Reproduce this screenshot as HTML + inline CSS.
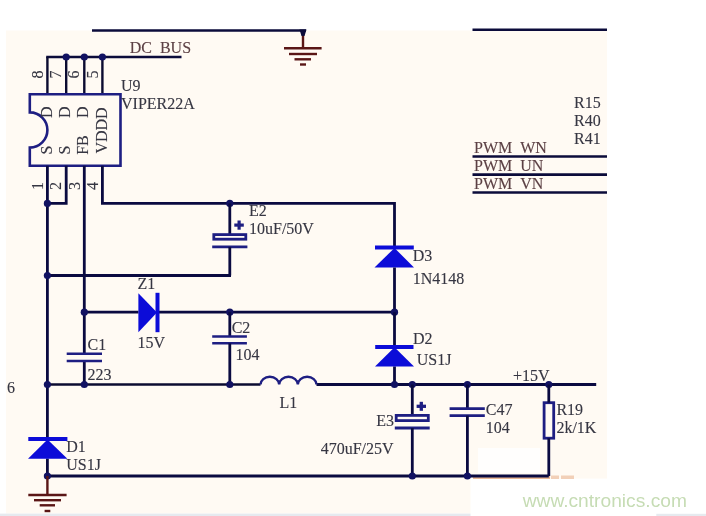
<!DOCTYPE html>
<html><head><meta charset="utf-8"><style>
html,body{margin:0;padding:0;background:#fff;width:706px;height:516px;overflow:hidden}
svg{display:block;will-change:transform}
</style></head><body>
<svg width="706" height="516" viewBox="0 0 706 516">
<rect x="0" y="0" width="706" height="516" fill="#ffffff"/>
<rect x="6" y="30.5" width="601" height="483" fill="#fffaf3"/>
<rect x="478" y="448" width="62" height="25" fill="#fffefd"/>
<rect x="470.5" y="478.6" width="236" height="38" fill="#ffffff"/>
<rect x="473" y="475" width="77" height="4" fill="#e9b896"/>
<rect x="551" y="475.5" width="8" height="3.5" fill="#f2d0b8"/>
<rect x="561" y="475.5" width="13" height="3.5" fill="#f2d0b8"/>
<rect x="0" y="513.6" width="470.5" height="3" fill="#e6eaef"/>
<rect x="656.3" y="513.8" width="50" height="3" fill="#e6eaef"/>
<line x1="92" y1="30.5" x2="306" y2="30.5" stroke="#0b0b3a" stroke-width="2.6"/>
<line x1="472.5" y1="29.8" x2="607" y2="29.8" stroke="#0b0b3a" stroke-width="2.4"/>
<line x1="303" y1="30.5" x2="303" y2="48.3" stroke="#5a1616" stroke-width="2.4"/>
<path d="M299.5,29.5 H306.5 L304.5,36 H301.5 Z" fill="#0b0b3a"/>
<line x1="284" y1="48.3" x2="321.6" y2="48.3" stroke="#5a1616" stroke-width="2.4"/>
<line x1="289" y1="54" x2="317" y2="54" stroke="#5a1616" stroke-width="2.4"/>
<line x1="294.5" y1="59.3" x2="311" y2="59.3" stroke="#5a1616" stroke-width="2.4"/>
<line x1="300" y1="64.5" x2="306" y2="64.5" stroke="#5a1616" stroke-width="2.4"/>
<line x1="46.199999999999996" y1="57.0" x2="181.5" y2="57.0" stroke="#0b0b3a" stroke-width="2.6"/>
<line x1="47.4" y1="57.0" x2="47.4" y2="94.2" stroke="#0b0b30" stroke-width="2.4"/>
<line x1="66.2" y1="57.0" x2="66.2" y2="94.2" stroke="#0b0b30" stroke-width="2.4"/>
<line x1="84.3" y1="57.0" x2="84.3" y2="94.2" stroke="#0b0b30" stroke-width="2.4"/>
<line x1="102.4" y1="57.0" x2="102.4" y2="94.2" stroke="#0b0b30" stroke-width="2.4"/>
<circle cx="66.2" cy="57.0" r="3.6" fill="#121262"/>
<circle cx="84.3" cy="57.0" r="3.6" fill="#121262"/>
<circle cx="102.4" cy="57.0" r="3.6" fill="#121262"/>
<path d="M29.8,94.2 H120.5 V165.8 H29.8 V147.6 A17.3,17.3 0 0 0 29.8,112.4 Z" stroke="#1e1e82" stroke-width="2.6" fill="#fffaf3"/>
<line x1="47.4" y1="165.8" x2="47.4" y2="439" stroke="#0a0a40" stroke-width="2.8"/>
<line x1="47.4" y1="458.5" x2="47.4" y2="476.0" stroke="#0a0a40" stroke-width="2.8"/>
<polyline points="66.2,165.8 66.2,203.4 47.4,203.4" stroke="#0a0a40" stroke-width="2.8" fill="none"/>
<line x1="84.3" y1="165.8" x2="84.3" y2="353.7" stroke="#0a0a40" stroke-width="2.8"/>
<line x1="84.3" y1="361" x2="84.3" y2="384.5" stroke="#0a0a40" stroke-width="2.8"/>
<polyline points="102.4,165.8 102.4,203.4 394.5,203.4 394.5,248" stroke="#0a0a40" stroke-width="2.8" fill="none"/>
<circle cx="47.4" cy="203.4" r="3.6" fill="#121262"/>
<circle cx="229.8" cy="203.4" r="3.6" fill="#121262"/>
<line x1="229.8" y1="203.4" x2="229.8" y2="234" stroke="#0a0a40" stroke-width="2.8"/>
<rect x="213.8" y="234.6" width="32" height="4.6" stroke="#1e1e82" stroke-width="2.8" fill="#fffaf3"/>
<line x1="212.2" y1="246.9" x2="247.4" y2="246.9" stroke="#1e1e82" stroke-width="2.6"/>
<line x1="229.8" y1="246.9" x2="229.8" y2="275.5" stroke="#0a0a40" stroke-width="2.8"/>
<line x1="231.0" y1="275.5" x2="47.4" y2="275.5" stroke="#0a0a40" stroke-width="2.8"/>
<circle cx="47.4" cy="275.5" r="3.6" fill="#121262"/>
<line x1="234.3" y1="225.1" x2="243.8" y2="225.1" stroke="#1e1e82" stroke-width="3.2"/>
<line x1="239.1" y1="220.5" x2="239.1" y2="229.7" stroke="#1e1e82" stroke-width="3.2"/>
<line x1="375" y1="247.6" x2="413.8" y2="247.6" stroke="#0c0cd8" stroke-width="4"/>
<polygon points="394.5,248 374.5,267.5 414,267.5" fill="#0c0cd8"/>
<line x1="394.5" y1="267.5" x2="394.5" y2="312.2" stroke="#0a0a40" stroke-width="2.8"/>
<line x1="84.3" y1="312.2" x2="138.5" y2="312.2" stroke="#0a0a40" stroke-width="2.8"/>
<line x1="157" y1="312.2" x2="394.5" y2="312.2" stroke="#0a0a40" stroke-width="2.8"/>
<circle cx="84.3" cy="312.2" r="3.6" fill="#121262"/>
<circle cx="229.8" cy="312.2" r="3.6" fill="#121262"/>
<circle cx="394.5" cy="312.2" r="3.6" fill="#121262"/>
<polygon points="138.4,293.3 138.4,332.2 157,312.4" fill="#0c0cd8"/>
<line x1="157.5" y1="292.8" x2="157.5" y2="332.2" stroke="#0c0cd8" stroke-width="4"/>
<line x1="229.8" y1="312.2" x2="229.8" y2="336.5" stroke="#0a0a40" stroke-width="2.8"/>
<line x1="212.2" y1="336.5" x2="246.9" y2="336.5" stroke="#1e1e82" stroke-width="2.6"/>
<line x1="212.2" y1="343.3" x2="246.9" y2="343.3" stroke="#1e1e82" stroke-width="2.6"/>
<line x1="229.8" y1="343.3" x2="229.8" y2="384.5" stroke="#0a0a40" stroke-width="2.8"/>
<line x1="66.7" y1="353.7" x2="102" y2="353.7" stroke="#1e1e82" stroke-width="2.6"/>
<line x1="66.7" y1="361" x2="102" y2="361" stroke="#1e1e82" stroke-width="2.6"/>
<line x1="394.5" y1="312.2" x2="394.5" y2="347" stroke="#0a0a40" stroke-width="2.8"/>
<line x1="394.5" y1="366.4" x2="394.5" y2="384.5" stroke="#0a0a40" stroke-width="2.8"/>
<line x1="375.2" y1="346.9" x2="413.5" y2="346.9" stroke="#0c0cd8" stroke-width="4"/>
<polygon points="394.5,347.2 375,366.6 414,366.6" fill="#0c0cd8"/>
<line x1="47.4" y1="384.5" x2="260.5" y2="384.5" stroke="#0b0b30" stroke-width="2.6"/>
<line x1="316.5" y1="384.5" x2="596.2" y2="384.5" stroke="#0a0a40" stroke-width="2.8"/>
<path d="M260.5,384.5 A9.33,7.7 0 0 1 279.17,384.5 A9.33,7.7 0 0 1 297.83,384.5 A9.33,7.7 0 0 1 316.5,384.5" stroke="#1e1e82" stroke-width="2.4" fill="none"/>
<circle cx="47.4" cy="384.5" r="3.6" fill="#121262"/>
<circle cx="84.3" cy="384.5" r="3.6" fill="#121262"/>
<circle cx="229.8" cy="384.5" r="3.6" fill="#121262"/>
<circle cx="394.5" cy="384.5" r="3.6" fill="#121262"/>
<circle cx="412.3" cy="384.5" r="3.6" fill="#121262"/>
<circle cx="467.4" cy="384.5" r="3.6" fill="#121262"/>
<circle cx="548.8" cy="384.5" r="3.6" fill="#121262"/>
<line x1="412.3" y1="384.5" x2="412.3" y2="415" stroke="#0a0a40" stroke-width="2.8"/>
<rect x="396.2" y="415.4" width="32.1" height="5.2" stroke="#1e1e82" stroke-width="2.8" fill="#fffaf3"/>
<line x1="394.8" y1="428" x2="429.7" y2="428" stroke="#1e1e82" stroke-width="2.8"/>
<line x1="412.3" y1="428" x2="412.3" y2="476.0" stroke="#0a0a40" stroke-width="2.8"/>
<line x1="416.6" y1="406.3" x2="426" y2="406.3" stroke="#1e1e82" stroke-width="3.3"/>
<line x1="421.3" y1="401.8" x2="421.3" y2="410.8" stroke="#1e1e82" stroke-width="3.3"/>
<line x1="467.4" y1="384.5" x2="467.4" y2="408.7" stroke="#0a0a40" stroke-width="2.8"/>
<line x1="449.6" y1="408.7" x2="484.8" y2="408.7" stroke="#1e1e82" stroke-width="2.8"/>
<line x1="449.6" y1="415.6" x2="484.8" y2="415.6" stroke="#1e1e82" stroke-width="2.8"/>
<line x1="467.4" y1="415.6" x2="467.4" y2="476.0" stroke="#0a0a40" stroke-width="2.8"/>
<rect x="544.1" y="402.7" width="9.6" height="35.5" stroke="#1e1e82" stroke-width="2.8" fill="#fffaf3"/>
<line x1="548.8" y1="384.5" x2="548.8" y2="402.7" stroke="#0a0a40" stroke-width="2.8"/>
<line x1="548.8" y1="438.2" x2="548.8" y2="476.0" stroke="#0a0a40" stroke-width="2.8"/>
<line x1="47.4" y1="476.0" x2="548.8" y2="476.0" stroke="#0a0a40" stroke-width="2.8"/>
<circle cx="47.4" cy="476.0" r="3.6" fill="#121262"/>
<circle cx="412.3" cy="476.0" r="3.6" fill="#121262"/>
<circle cx="467.4" cy="476.0" r="3.6" fill="#121262"/>
<line x1="28.3" y1="439" x2="67.4" y2="439" stroke="#0c0cd8" stroke-width="4"/>
<polygon points="47.5,439.5 28,458.8 67.4,458.8" fill="#0c0cd8"/>
<line x1="47.4" y1="476.0" x2="47.4" y2="495" stroke="#5a1616" stroke-width="2.4"/>
<line x1="28.3" y1="495" x2="66.6" y2="495" stroke="#5a1616" stroke-width="2.4"/>
<line x1="34" y1="500.2" x2="61" y2="500.2" stroke="#5a1616" stroke-width="2.4"/>
<line x1="39.7" y1="505.3" x2="55" y2="505.3" stroke="#5a1616" stroke-width="2.4"/>
<line x1="44.6" y1="511" x2="50.3" y2="511" stroke="#5a1616" stroke-width="2.4"/>
<line x1="472.5" y1="156.5" x2="607" y2="156.5" stroke="#0b0b3a" stroke-width="2.6"/>
<line x1="472.5" y1="174.6" x2="607" y2="174.6" stroke="#0b0b3a" stroke-width="2.6"/>
<line x1="472.5" y1="192.5" x2="607" y2="192.5" stroke="#0b0b3a" stroke-width="2.6"/>
<text x="129.7" y="53.0" fill="#5c4044" font-size="16" font-family="Liberation Serif" text-anchor="start"  stroke="#5c4044" stroke-width="0.12">DC<tspan dx="8">BUS</tspan></text>
<text x="121" y="90.6" fill="#363642" font-size="16" font-family="Liberation Serif" text-anchor="start"  stroke="#363642" stroke-width="0.12">U9</text>
<text x="121" y="108.8" fill="#363642" font-size="16" font-family="Liberation Serif" text-anchor="start"  stroke="#363642" stroke-width="0.12">VIPER22A</text>
<text x="574" y="108.0" fill="#363642" font-size="16" font-family="Liberation Serif" text-anchor="start"  stroke="#363642" stroke-width="0.12">R15</text>
<text x="574" y="126.3" fill="#363642" font-size="16" font-family="Liberation Serif" text-anchor="start"  stroke="#363642" stroke-width="0.12">R40</text>
<text x="574" y="143.8" fill="#363642" font-size="16" font-family="Liberation Serif" text-anchor="start"  stroke="#363642" stroke-width="0.12">R41</text>
<text x="474" y="153.4" fill="#5c4044" font-size="16" font-family="Liberation Serif" text-anchor="start"  stroke="#5c4044" stroke-width="0.12">PWM<tspan dx="8">WN</tspan></text>
<text x="474" y="171.2" fill="#5c4044" font-size="16" font-family="Liberation Serif" text-anchor="start"  stroke="#5c4044" stroke-width="0.12">PWM<tspan dx="8">UN</tspan></text>
<text x="474" y="189.0" fill="#5c4044" font-size="16" font-family="Liberation Serif" text-anchor="start"  stroke="#5c4044" stroke-width="0.12">PWM<tspan dx="8">VN</tspan></text>
<text x="249" y="216.0" fill="#363642" font-size="16" font-family="Liberation Serif" text-anchor="start"  stroke="#363642" stroke-width="0.12">E2</text>
<text x="249" y="234.1" fill="#363642" font-size="16" font-family="Liberation Serif" text-anchor="start"  stroke="#363642" stroke-width="0.12">10uF/50V</text>
<text x="412.7" y="260.7" fill="#363642" font-size="16" font-family="Liberation Serif" text-anchor="start"  stroke="#363642" stroke-width="0.12">D3</text>
<text x="412.7" y="283.5" fill="#363642" font-size="16" font-family="Liberation Serif" text-anchor="start"  stroke="#363642" stroke-width="0.12">1N4148</text>
<text x="137.6" y="289.0" fill="#363642" font-size="16" font-family="Liberation Serif" text-anchor="start"  stroke="#363642" stroke-width="0.12">Z1</text>
<text x="137.6" y="347.7" fill="#363642" font-size="16" font-family="Liberation Serif" text-anchor="start"  stroke="#363642" stroke-width="0.12">15V</text>
<text x="87.6" y="349.5" fill="#363642" font-size="16" font-family="Liberation Serif" text-anchor="start"  stroke="#363642" stroke-width="0.12">C1</text>
<text x="87.6" y="379.5" fill="#363642" font-size="16" font-family="Liberation Serif" text-anchor="start"  stroke="#363642" stroke-width="0.12">223</text>
<text x="231.7" y="333.2" fill="#363642" font-size="16" font-family="Liberation Serif" text-anchor="start"  stroke="#363642" stroke-width="0.12">C2</text>
<text x="235.4" y="359.5" fill="#363642" font-size="16" font-family="Liberation Serif" text-anchor="start"  stroke="#363642" stroke-width="0.12">104</text>
<text x="279.4" y="408.3" fill="#363642" font-size="16" font-family="Liberation Serif" text-anchor="start"  stroke="#363642" stroke-width="0.12">L1</text>
<text x="412.9" y="344.4" fill="#363642" font-size="16" font-family="Liberation Serif" text-anchor="start"  stroke="#363642" stroke-width="0.12">D2</text>
<text x="416.7" y="365.1" fill="#363642" font-size="16" font-family="Liberation Serif" text-anchor="start"  stroke="#363642" stroke-width="0.12">US1J</text>
<text x="376.3" y="426.3" fill="#363642" font-size="16" font-family="Liberation Serif" text-anchor="start"  stroke="#363642" stroke-width="0.12">E3</text>
<text x="393.6" y="454.2" fill="#363642" font-size="16" font-family="Liberation Serif" text-anchor="end"  stroke="#363642" stroke-width="0.12">470uF/25V</text>
<text x="513" y="381.2" fill="#363642" font-size="16" font-family="Liberation Serif" text-anchor="start"  stroke="#363642" stroke-width="0.12">+15V</text>
<text x="485.8" y="415.4" fill="#363642" font-size="16" font-family="Liberation Serif" text-anchor="start"  stroke="#363642" stroke-width="0.12">C47</text>
<text x="485.8" y="433.0" fill="#363642" font-size="16" font-family="Liberation Serif" text-anchor="start"  stroke="#363642" stroke-width="0.12">104</text>
<text x="556.4" y="415.4" fill="#363642" font-size="16" font-family="Liberation Serif" text-anchor="start"  stroke="#363642" stroke-width="0.12">R19</text>
<text x="556.4" y="433.0" fill="#363642" font-size="16" font-family="Liberation Serif" text-anchor="start"  stroke="#363642" stroke-width="0.12">2k/1K</text>
<text x="66.3" y="451.7" fill="#363642" font-size="16" font-family="Liberation Serif" text-anchor="start"  stroke="#363642" stroke-width="0.12">D1</text>
<text x="66.3" y="470.2" fill="#363642" font-size="16" font-family="Liberation Serif" text-anchor="start"  stroke="#363642" stroke-width="0.12">US1J</text>
<text x="7" y="393.1" fill="#363642" font-size="16" font-family="Liberation Serif" text-anchor="start"  stroke="#363642" stroke-width="0.12">6</text>
<text transform="translate(51.5,154.4) rotate(-90)" fill="#363642" stroke="#363642" stroke-width="0.12" font-size="16" font-family="Liberation Serif">S</text>
<text transform="translate(51.5,118.0) rotate(-90)" fill="#363642" stroke="#363642" stroke-width="0.12" font-size="16" font-family="Liberation Serif">D</text>
<text transform="translate(69.5,154.4) rotate(-90)" fill="#363642" stroke="#363642" stroke-width="0.12" font-size="16" font-family="Liberation Serif">S</text>
<text transform="translate(69.5,118.0) rotate(-90)" fill="#363642" stroke="#363642" stroke-width="0.12" font-size="16" font-family="Liberation Serif">D</text>
<text transform="translate(88.0,118.0) rotate(-90)" fill="#363642" stroke="#363642" stroke-width="0.12" font-size="16" font-family="Liberation Serif">D</text>
<text transform="translate(87.9,154.8) rotate(-90)" fill="#363642" stroke="#363642" stroke-width="0.12" font-size="16" font-family="Liberation Serif">FB</text>
<text transform="translate(106.7,153.6) rotate(-90)" fill="#363642" stroke="#363642" stroke-width="0.12" font-size="16" font-family="Liberation Serif">VDDD</text>
<text transform="translate(43.0,78.6) rotate(-90)" fill="#363642" stroke="#363642" stroke-width="0.12" font-size="16" font-family="Liberation Serif">8</text>
<text transform="translate(61.0,78.6) rotate(-90)" fill="#363642" stroke="#363642" stroke-width="0.12" font-size="16" font-family="Liberation Serif">7</text>
<text transform="translate(79.0,78.6) rotate(-90)" fill="#363642" stroke="#363642" stroke-width="0.12" font-size="16" font-family="Liberation Serif">6</text>
<text transform="translate(98.0,78.6) rotate(-90)" fill="#363642" stroke="#363642" stroke-width="0.12" font-size="16" font-family="Liberation Serif">5</text>
<text transform="translate(43,190) rotate(-90)" fill="#363642" stroke="#363642" stroke-width="0.12" font-size="16" font-family="Liberation Serif">1</text>
<text transform="translate(61.1,190) rotate(-90)" fill="#363642" stroke="#363642" stroke-width="0.12" font-size="16" font-family="Liberation Serif">2</text>
<text transform="translate(79.5,190) rotate(-90)" fill="#363642" stroke="#363642" stroke-width="0.12" font-size="16" font-family="Liberation Serif">3</text>
<text transform="translate(98.0,190) rotate(-90)" fill="#363642" stroke="#363642" stroke-width="0.12" font-size="16" font-family="Liberation Serif">4</text>
<text x="522.7" y="507.1" fill="#c6dcb4" font-size="19.2" font-family="Liberation Sans" text-anchor="start" >www.cntronics.com</text>
</svg>
</body></html>
